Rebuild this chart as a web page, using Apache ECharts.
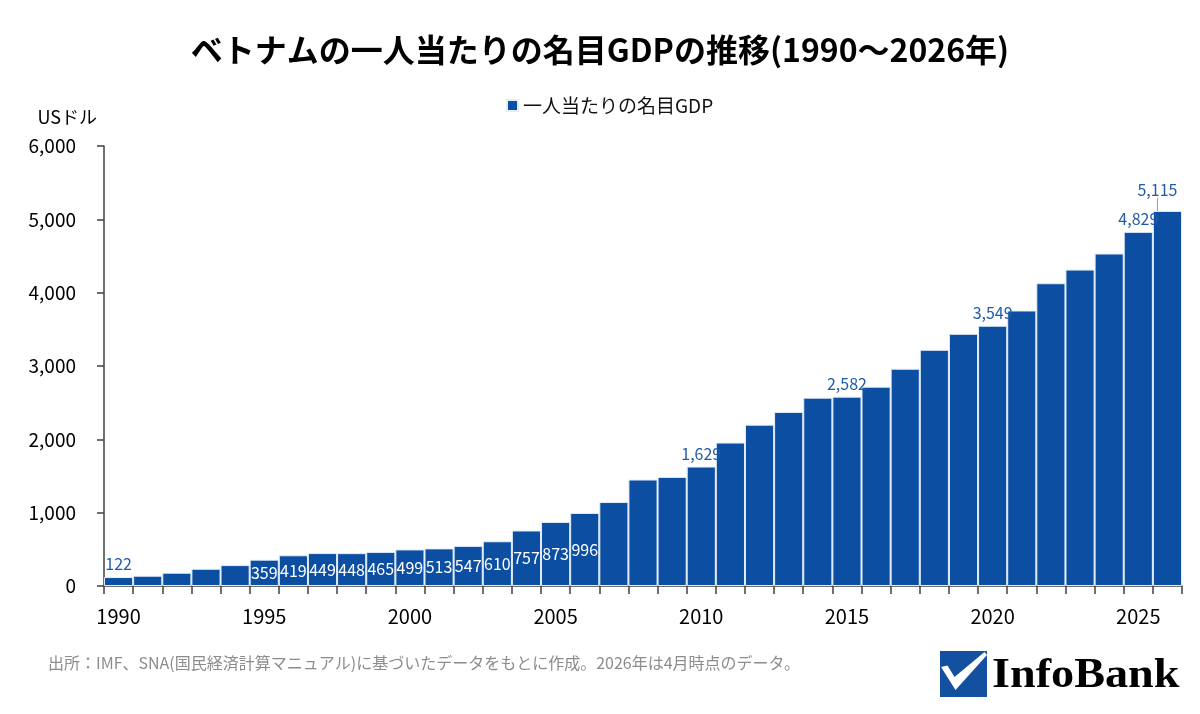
<!DOCTYPE html>
<html>
<head>
<meta charset="utf-8">
<script src="https://cdn.jsdelivr.net/npm/echarts@6/dist/echarts.min.js"></script>
<style>
  html, body { margin: 0; padding: 0; background: #fff; }
  #chart { width: 1200px; height: 714px; }
</style>
</head>
<body>
<div id="chart"></div>
<script>
const years = ['1990','1991','1992','1993','1994','1995','1996','1997','1998','1999',
  '2000','2001','2002','2003','2004','2005','2006','2007','2008','2009',
  '2010','2011','2012','2013','2014','2015','2016','2017','2018','2019',
  '2020','2021','2022','2023','2024','2025','2026'];
const gdpPerCapita = [122, 140, 181, 235, 285, 359, 419, 449, 448, 465,
  499, 513, 547, 610, 757, 873, 996, 1145, 1452, 1488,
  1629, 1956, 2200, 2373, 2568, 2582, 2718, 2963, 3221, 3439,
  3549, 3757, 4129, 4315, 4534, 4829, 5115];
const insideLabelYears = ['1995','1996','1997','1998','1999','2000','2001','2002','2003','2004','2005','2006'];
const topLabelYears = ['1990','2010','2015','2020','2025','2026'];

// label nudges, like hand-placed labels in the original
const topLabelShift = { '1990': [0, 8], '2010': [-9, 0], '2015': [-12, 0], '2020': [-15, 0], '2025': [-19, 0], '2026': [-10, -8] };

const FONT = "'Noto Sans CJK JP', 'Noto Sans', sans-serif";
const BAR_BLUE = '#0b4ea2';
const LABEL_BLUE = '#1f5ca8';

const fmt = v => Number(v).toLocaleString('en-US');

const barData = years.map((y, i) => {
  const item = { value: gdpPerCapita[i] };
  if (insideLabelYears.includes(y)) {
    item.label = { show: true, position: 'inside', offset: [0, 0], color: '#fff', fontSize: 16 };
  } else if (topLabelYears.includes(y)) {
    const s = topLabelShift[y];
    item.label = { show: true, position: 'top', distance: 5, offset: y === '2026' ? [0, 0] : s, color: LABEL_BLUE, fontSize: 16 };
    if (y === '2026') item.labelLine = { show: true, lineStyle: { color: '#9a9a9a', width: 1 } };
  }
  return item;
});

const chart = echarts.init(document.getElementById('chart'));
chart.setOption({
  animation: false,
  textStyle: { fontFamily: FONT },
  title: {
    text: 'ベトナムの一人当たりの名目GDPの推移(1990～2026年)',
    left: 'center',
    top: 34,
    padding: 0,
    textStyle: { fontSize: 32, fontWeight: 'bold', color: '#000', fontFamily: FONT }
  },
  legend: {
    left: 506,
    top: 96,
    padding: 0,
    icon: 'rect',
    itemWidth: 11,
    itemHeight: 11,
    itemGap: 6,
    textStyle: { fontSize: 19, color: '#111', fontFamily: FONT },
    data: ['一人当たりの名目GDP']
  },
  grid: { left: 104, right: 18, top: 146, bottom: 128 },
  xAxis: {
    type: 'category',
    data: years,
    boundaryGap: true,
    axisLine: { lineStyle: { color: '#404040', width: 1.5 } },
    axisTick: { show: true, interval: 0, alignWithLabel: false, length: 8, lineStyle: { color: '#404040', width: 1.5 } },
    axisLabel: { interval: 4, fontSize: 20, color: '#000', margin: 20, fontFamily: FONT }
  },
  yAxis: {
    type: 'value',
    min: 0,
    max: 6000,
    interval: 1000,
    name: 'USドル',
    nameLocation: 'end',
    nameGap: 20,
    nameTextStyle: { fontSize: 18, color: '#000', align: 'right', padding: [0, 7, 0, 0], fontFamily: FONT },
    axisLine: { show: true, lineStyle: { color: '#404040', width: 1.5 } },
    axisTick: { show: true, length: 7, lineStyle: { color: '#404040', width: 1.5 } },
    splitLine: { show: false },
    axisLabel: { fontSize: 19, color: '#000', margin: 28, formatter: fmt, fontFamily: FONT }
  },
  series: [{
    name: '一人当たりの名目GDP',
    type: 'bar',
    data: barData,
    barCategoryGap: '0%',
    itemStyle: { color: BAR_BLUE, borderColor: '#e4edf8', borderWidth: 1 },
    label: { show: false, formatter: p => fmt(p.value), fontFamily: FONT },
    labelLayout: p => {
      if (p.dataIndex === years.indexOf('2026')) {
        const s = topLabelShift['2026'];
        return { dx: s[0], dy: s[1] };
      }
    }
  }],
  graphic: [
    {
      type: 'text', left: 48, top: 655,
      style: {
        text: '出所：IMF、SNA(国民経済計算マニュアル)に基づいたデータをもとに作成。2026年は4月時点のデータ。',
        fill: '#8c8c8c', fontSize: 16, fontFamily: FONT
      }
    },
    { type: 'rect', shape: { x: 940, y: 651, width: 47, height: 46 }, style: { fill: '#1450a0' } },
    {
      type: 'polygon',
      shape: { points: [[941, 667], [947.5, 665.5], [954.5, 677], [984.5, 652], [987, 655], [955.5, 690]] },
      style: { fill: '#fff' }
    },
    {
      type: 'text', x: 992, y: 655, scaleX: 1.1,
      style: { text: 'InfoBank', fill: '#000', fontSize: 42, fontWeight: 'bold', fontFamily: "'Liberation Serif', 'DejaVu Serif', serif" }
    }
  ]
});
</script>
</body>
</html>
